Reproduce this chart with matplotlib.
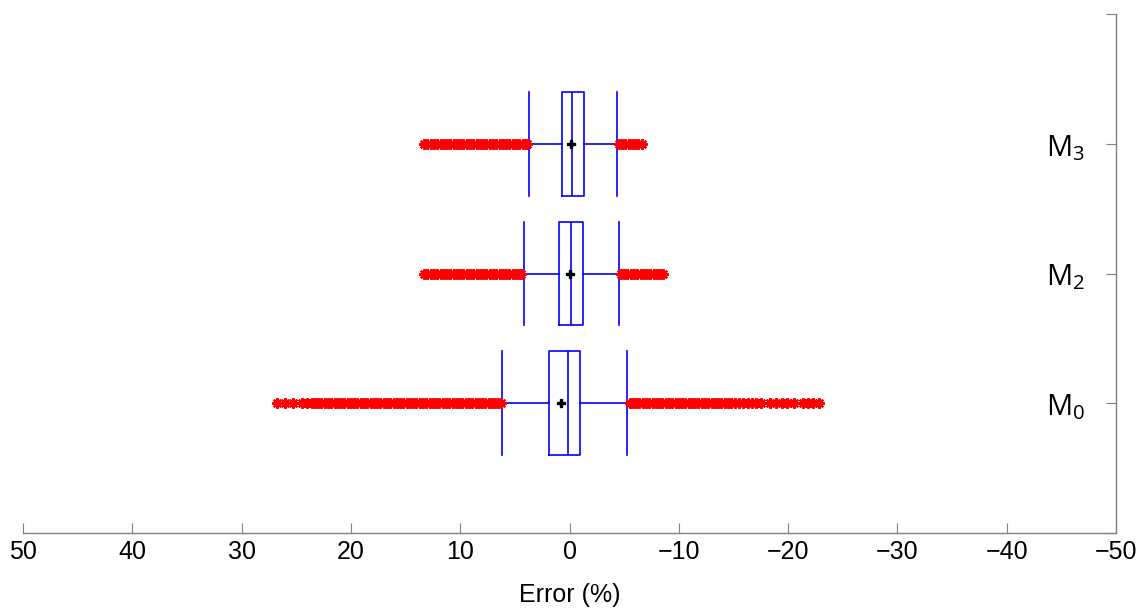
import matplotlib
matplotlib.use("Agg")
import matplotlib.pyplot as plt

plt.rcParams["font.family"] = ["Liberation Sans", "DejaVu Sans"]
plt.rcParams["mathtext.fontset"] = "custom"
plt.rcParams["mathtext.rm"] = "Open Sans"
plt.rcParams["mathtext.it"] = "Open Sans"

# models, bottom to top
labels = [r"M$_0$", r"M$_2$", r"M$_3$"]
positions = [1, 2, 3]

# box statistics (error in %)
q1 = [1.9, 0.95, 0.65]
q3 = [-1.0, -1.25, -1.35]
medians = [0.1, -0.15, -0.2]
means = [0.8, 0.0, -0.15]
whislo = [6.2, 4.2, 3.7]
whishi = [-5.3, -4.55, -4.35]

# outliers
fliers_m0 = [
  26.8, 26.0, 25.3, 24.5, 24.0, 23.6, 23.3, 23.0, 22.7, 22.4, 22.1, 21.8,
  21.5, 21.2, 20.9, 20.6, 20.3, 20.0, 19.7, 19.4, 19.1, 18.8, 18.5, 18.2,
  17.9, 17.6, 17.3, 17.0, 16.7, 16.4, 16.1, 15.8, 15.5, 15.2, 14.9, 14.6,
  14.3, 14.0, 13.7, 13.4, 13.1, 12.8, 12.5, 12.2, 11.9, 11.6, 11.3, 11.0,
  10.7, 10.4, 10.1, 9.8, 9.5, 9.2, 8.9, 8.6, 8.3, 8.0, 7.7, 7.4, 7.1, 6.8,
  6.5, 6.3,
  -5.5, -5.8, -6.1, -6.4, -6.7, -7.0, -7.3, -7.6, -7.9, -8.2, -8.5, -8.8,
  -9.1, -9.4, -9.7, -10.0, -10.3, -10.6, -10.9, -11.2, -11.5, -11.8, -12.1,
  -12.4, -12.7, -13.0, -13.3, -13.6, -13.9, -14.2, -14.5, -14.8, -15.1,
  -15.5, -15.9, -16.3, -16.7, -17.1, -17.5,
  -18.3, -18.9, -19.4, -19.9, -20.5, -21.4, -21.8, -22.3, -22.8,
]
fliers_m2 = [
  13.3, 13.0, 12.7, 12.4, 12.1, 11.8, 11.5, 11.2, 10.9, 10.6, 10.3, 10.0,
  9.7, 9.4, 9.1, 8.8, 8.5, 8.2, 7.9, 7.6, 7.3, 7.0, 6.7, 6.4, 6.1, 5.8,
  5.5, 5.2, 4.9, 4.6, 4.4,
  -4.7, -5.0, -5.3, -5.6, -5.9, -6.2, -6.5, -6.8, -7.1, -7.4, -7.7, -8.0,
  -8.3, -8.6,
]
fliers_m3 = [
  13.3, 13.0, 12.7, 12.4, 12.1, 11.8, 11.5, 11.2, 10.9, 10.6, 10.3, 10.0,
  9.7, 9.4, 9.1, 8.8, 8.5, 8.2, 7.9, 7.6, 7.3, 7.0, 6.7, 6.4, 6.1, 5.8,
  5.5, 5.2, 4.9, 4.6, 4.3, 4.1, 3.9,
  -4.5, -4.8, -5.1, -5.4, -5.7, -6.0, -6.3, -6.6,
]
fliers = [fliers_m0, fliers_m2, fliers_m3]

xticks = [50, 40, 30, 20, 10, 0, -10, -20, -30, -40, -50]

stats = []
for i in range(len(labels)):
  stats.append({
    "q1": q1[i], "q3": q3[i], "med": medians[i], "mean": means[i],
    "whislo": whislo[i], "whishi": whishi[i], "fliers": fliers[i],
  })

blue = "#0000ff"
gray = "#808080"

fig = plt.figure(figsize=(11.41, 6.08), dpi=100)
ax = fig.add_axes([23 / 1141, 75 / 608, 1093 / 1141, 519 / 608])

ax.bxp(
  stats, positions=positions, widths=0.8, capwidths=0.8,
  orientation="horizontal", showmeans=True,
  boxprops=dict(color=blue, linewidth=1.2),
  medianprops=dict(color=blue, linewidth=1.2),
  whiskerprops=dict(color=blue, linewidth=1.2, linestyle="-"),
  capprops=dict(color=blue, linewidth=1.2),
  meanprops=dict(marker="P", markerfacecolor="black", markeredgecolor="black",
                 markersize=6),
  flierprops=dict(marker=(8, 2, 0), markeredgecolor="red",
                  markerfacecolor="red", markersize=7.5, markeredgewidth=1.6,
                  linestyle="none", snap=False),
)

ax.set_xlim(50, -50)
ax.set_ylim(0, 4)
ax.set_xticks(xticks)
ax.set_xticklabels([f"{t}".replace("-", "\u2212") for t in xticks])
ax.set_yticks([0, 1, 2, 3, 4])
ax.set_yticklabels([])
ax.yaxis.tick_right()

for side in ("left", "top"):
  ax.spines[side].set_visible(False)
for side in ("right", "bottom"):
  ax.spines[side].set_color(gray)
  ax.spines[side].set_linewidth(1.0)

ax.tick_params(axis="x", direction="in", length=7, color=gray,
               labelsize=18, pad=5)
ax.tick_params(axis="y", direction="in", length=7, color=gray)

for pos, lab in zip(positions, labels):
  ax.annotate(lab, xy=(1, pos), xycoords=("axes fraction", "data"),
              xytext=(-31, -12), textcoords="offset pixels",
              ha="right", va="baseline", fontsize=21, family="Open Sans")

ax.set_xlabel("Error (%)", fontsize=18, labelpad=14)

fig.savefig("out.png", dpi=100)
